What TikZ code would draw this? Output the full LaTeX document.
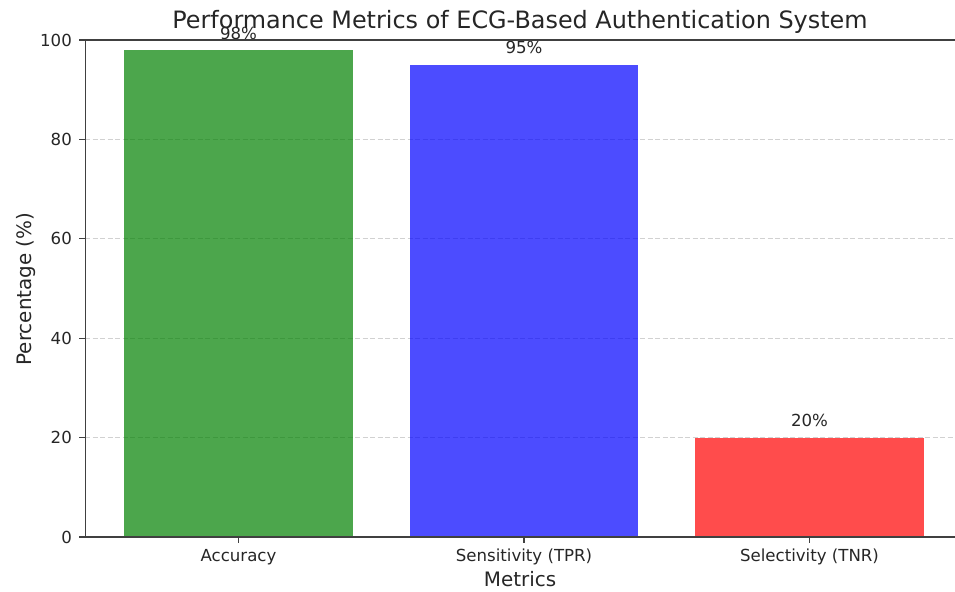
\documentclass[tikz,border=0pt]{standalone}
\usepackage{fontspec}
\setmainfont{DejaVu Sans}

\definecolor{accgreen}{RGB}{0,128,0}
\definecolor{tprblue}{RGB}{0,0,255}
\definecolor{tnrred}{RGB}{255,0,0}

\begin{document}
\begin{tikzpicture}[
    x=285.5pt,
    y=4.97pt,
    bar/.style={
        draw=none,
        fill opacity=0.7
    },
    spine/.style={
        draw=black!75,
        line width=1.3pt
    },
    gridline/.style={
        draw=black!18,
        line width=1pt,
        dash pattern=on 5pt off 2.5pt
    },
    tickmark/.style={
        draw=black!75,
        line width=1.2pt
    },
    ticklabel/.style={
        font=\fontsize{16.6}{20}\selectfont,
        text=black!85,
        inner sep=0pt
    },
    axislabel/.style={
        font=\fontsize{19.9}{24}\selectfont,
        text=black!85,
        inner sep=0pt
    },
    valuelabel/.style={
        font=\fontsize{16.6}{20}\selectfont,
        text=black!85,
        inner sep=0pt,
        anchor=base
    }
]
\useasboundingbox (-0.8354,-10.865) rectangle (2.5096,108.05);

% Grid lines
\draw[gridline] (-0.537,20) -- (2.5096,20);
\draw[gridline] (-0.537,40) -- (2.5096,40);
\draw[gridline] (-0.537,60) -- (2.5096,60);
\draw[gridline] (-0.537,80) -- (2.5096,80);

% Bars
\fill[bar, accgreen] (-0.4,0) rectangle (0.4,98);
\fill[bar, tprblue] (0.6,0) rectangle (1.4,95);
\fill[bar, tnrred] (1.6,0) rectangle (2.4,20);

% Value labels
\node[valuelabel] (accval) at (0,100.2) {98\%};
\node[valuelabel] (tprval) at (1,97.2) {95\%};
\node[valuelabel] (tnrval) at (2,22.2) {20\%};

% Spines
\draw[spine] (-0.537,100) -- (-0.537,0) -- (2.5096,0);
\draw[spine] (-0.537,100) -- (2.5096,100);

% Y ticks
\draw[tickmark] (-0.537,0) -- (-0.5573,0);
\draw[tickmark] (-0.537,20) -- (-0.5573,20);
\draw[tickmark] (-0.537,40) -- (-0.5573,40);
\draw[tickmark] (-0.537,60) -- (-0.5573,60);
\draw[tickmark] (-0.537,80) -- (-0.5573,80);
\draw[tickmark] (-0.537,100) -- (-0.5573,100);
\node[ticklabel, anchor=east] (y0) at (-0.583,0) {0};
\node[ticklabel, anchor=east] (y20) at (-0.583,20) {20};
\node[ticklabel, anchor=east] (y40) at (-0.583,40) {40};
\node[ticklabel, anchor=east] (y60) at (-0.583,60) {60};
\node[ticklabel, anchor=east] (y80) at (-0.583,80) {80};
\node[ticklabel, anchor=east] (y100) at (-0.583,100) {100};

% X ticks
\draw[tickmark] (0,0) -- (0,-1.17);
\draw[tickmark] (1,0) -- (1,-1.17);
\draw[tickmark] (2,0) -- (2,-1.17);
\node[ticklabel, anchor=base] (acc) at (0,-4.83) {Accuracy};
\node[ticklabel, anchor=base] (tpr) at (1,-4.83) {Sensitivity (TPR)};
\node[ticklabel, anchor=base] (tnr) at (2,-4.83) {Selectivity (TNR)};

% Axis labels and title
\node[axislabel, anchor=base] (xlabel) at (0.986,-9.86) {Metrics};
\node[axislabel, anchor=base, rotate=90] (ylabel) at (-0.7268,49.9) {Percentage (\%)};
\node[font=\fontsize{23.9}{28}\selectfont, text=black!85, inner sep=0pt, anchor=base] (title) at (0.986,102.4) {Performance Metrics of ECG-Based Authentication System};

\end{tikzpicture}
\end{document}
